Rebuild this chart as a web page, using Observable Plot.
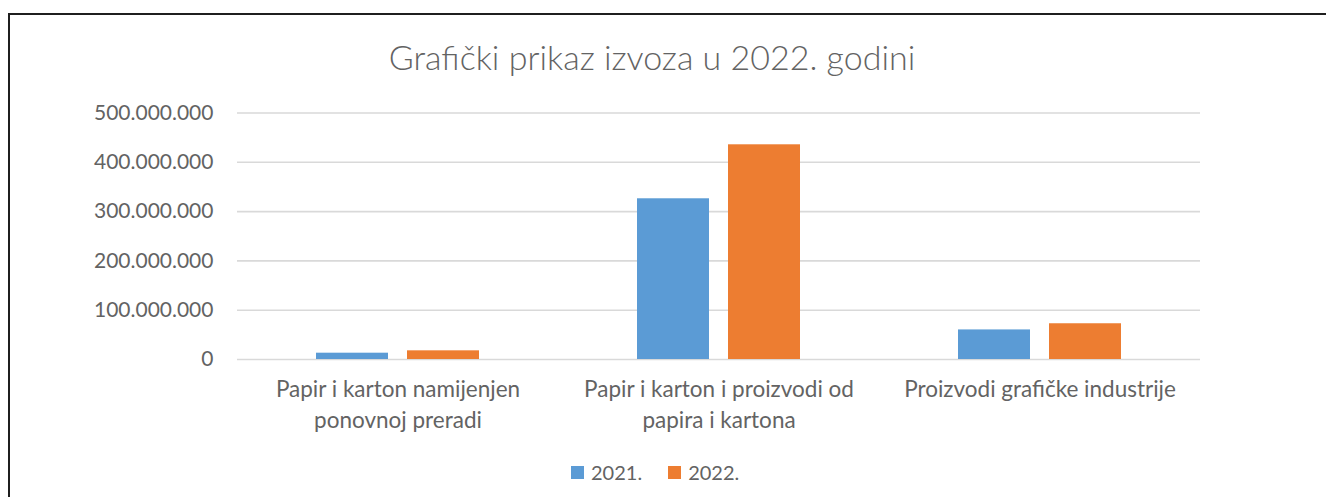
<!DOCTYPE html>
<html>
<head>
<meta charset="utf-8">
<script src="https://cdn.jsdelivr.net/npm/d3@7"></script>
<script src="https://cdn.jsdelivr.net/npm/@observablehq/plot@0.6"></script>
<style>
  html, body { margin: 0; padding: 0; background: #fff; overflow: hidden; width: 1326px; height: 497px; }
  #frame { position: absolute; left: 8px; top: 13px; width: 1400px; height: 600px; border-left: 2px solid #1f1f1f; border-top: 2px solid #1f1f1f; }
  #title { position: absolute; left: 0; width: 1304px; top: 36px; text-align: center; font-family: Lato, sans-serif; font-size: 34px; color: #636363; font-weight: 300; }
  #chart { position: absolute; left: 0; top: 90px; }
  #legend { position: absolute; top: 460px; left: 571px; font-family: Lato, sans-serif; font-size: 20px; color: #636363; display: flex; align-items: center; }
  .sw { display: inline-block; width: 13px; height: 13px; margin-right: 7px; }
  .item { display: flex; align-items: center; margin-right: 26px; }
</style>
</head>
<body>
<div id="frame"></div>
<div id="title">Grafički prikaz izvoza u 2022. godini</div>
<div id="chart"></div>
<div id="legend"></div>
<script>
const categories = ["Papir i karton namijenjen ponovnoj preradi", "Papir i karton i proizvodi od papira i kartona", "Proizvodi grafičke industrije"];
const categoryLabels = ["Papir i karton namijenjen\nponovnoj preradi", "Papir i karton i proizvodi od\npapira i kartona", "Proizvodi grafičke industrije"];
const years = ["2021.", "2022."];
const values2021 = [12800000, 326000000, 60000000];
const values2022 = [17600000, 435500000, 72500000];
const yTicks = [0, 100000000, 200000000, 300000000, 400000000, 500000000];
const colors = ["#5B9BD5", "#ED7D31"];

const data = [];
categories.forEach((c, i) => {
  data.push({category: c, year: years[0], value: values2021[i]});
  data.push({category: c, year: years[1], value: values2022[i]});
});

const locale = d3.formatLocale({decimal: ",", thousands: ".", grouping: [3], currency: ["", ""]});
const fmt = locale.format(",d");

const chart = Plot.plot({
  width: 1326,
  height: 370,
  marginLeft: 237,
  marginRight: 126,
  marginTop: 22.5,
  marginBottom: 101,
  style: {fontFamily: "Lato, sans-serif", fontSize: "21px", color: "#636363", background: "transparent"},
  fx: {domain: categories, padding: 0},
  x: {domain: years, paddingInner: 0.209, paddingOuter: 0.868, axis: null},
  y: {domain: [0, 500000000], axis: null},
  color: {domain: years, range: colors},
  marks: [
    Plot.ruleY(yTicks, {stroke: "#d9d9d9", strokeWidth: 1.6}),
    Plot.barY(data, {fx: "category", x: "year", y: "value", fill: "year"}),
    Plot.axisY({ticks: yTicks, tickFormat: fmt, tickSize: 0, tickPadding: 24, label: null, fill: "#636363", fontSize: 21}),
    Plot.axisFx({anchor: "bottom", tickSize: 0, tickPadding: 15, label: null, lineHeight: 1.38, fill: "#636363", fontSize: 22.5,
      tickFormat: (d) => categoryLabels[categories.indexOf(d)]})
  ]
});
document.getElementById("chart").appendChild(chart);

const legend = document.getElementById("legend");
years.forEach((y, i) => {
  const item = document.createElement("div");
  item.className = "item";
  const sw = document.createElement("span");
  sw.className = "sw";
  sw.style.background = colors[i];
  item.appendChild(sw);
  item.appendChild(document.createTextNode(y));
  legend.appendChild(item);
});
</script>
</body>
</html>
